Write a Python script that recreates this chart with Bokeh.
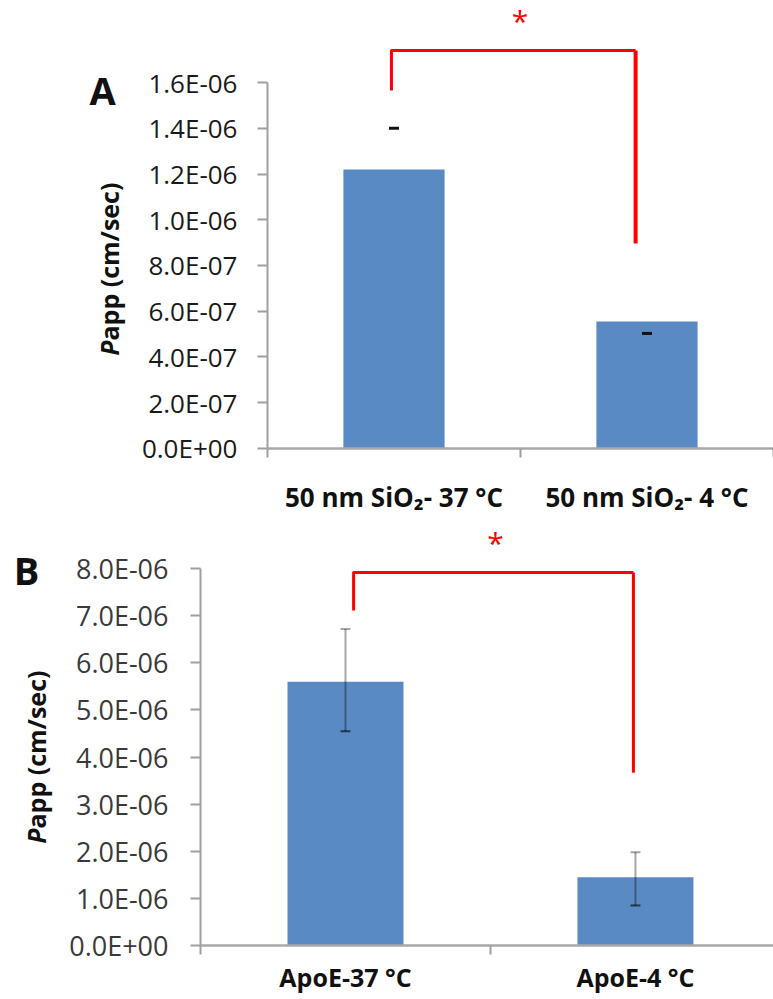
import math
from bokeh.plotting import figure
from bokeh.models import Range1d, FixedTicker, CustomJSTickFormatter, Label, ColumnDataSource
from bokeh.layouts import column
from bokeh.embed import file_html
from bokeh.resources import INLINE

# ---------------- data ----------------
a_categories = ["50 nm SiO\u2082- 37 \u00b0C", "50 nm SiO\u2082- 4 \u00b0C"]
a_values = [1.22e-6, 0.555e-6]
a_err_marks = [1.40e-6, 0.503e-6]
a_ticks = [0.0, 2e-7, 4e-7, 6e-7, 8e-7, 1.0e-6, 1.2e-6, 1.4e-6, 1.6e-6]
a_tick_labels = ["0.0E+00", "2.0E-07", "4.0E-07", "6.0E-07", "8.0E-07",
                 "1.0E-06", "1.2E-06", "1.4E-06", "1.6E-06"]

b_categories = ["ApoE-37 \u00b0C", "ApoE-4 \u00b0C"]
b_values = [5.60e-6, 1.45e-6]
b_err_low = [4.55e-6, 0.85e-6]
b_err_high = [6.72e-6, 1.98e-6]
b_ticks = [0.0, 1e-6, 2e-6, 3e-6, 4e-6, 5e-6, 6e-6, 7e-6, 8e-6]
b_tick_labels = ["0.0E+00", "1.0E-06", "2.0E-06", "3.0E-06", "4.0E-06",
                 "5.0E-06", "6.0E-06", "7.0E-06", "8.0E-06"]

BAR = "#5A8AC3"
RED = "#FF0000"
FONT = "Open Sans"

tick_fmt_code = """
let best = 0;
for (let i = 0; i < tvals.length; i++) {
  if (Math.abs(tvals[i] - tick) < Math.abs(tvals[best] - tick)) best = i;
}
return tlabels[best];
"""
cat_fmt_code = "return clabels[Math.round(tick - 0.5)];"


def make_panel(height, x_range, y_range, cats, ticks, tick_labels, tick_font_size,
               tick_color, cat_font_size, cat_standoff, y_standoff):
    p = figure(width=773, height=height, output_backend="svg", toolbar_location=None,
               x_range=Range1d(*x_range), y_range=Range1d(*y_range), min_border=0)
    p.outline_line_color = None
    p.xgrid.visible = False
    p.ygrid.visible = False
    p.background_fill_color = "white"
    p.border_fill_color = "white"

    # y axis (drawn at x = 0 of the category scale)
    yax = p.yaxis[0]
    yax.fixed_location = 0
    yax.ticker = FixedTicker(ticks=ticks, minor_ticks=[])
    yax.formatter = CustomJSTickFormatter(args=dict(tvals=ticks, tlabels=tick_labels), code=tick_fmt_code)
    yax.bounds = (ticks[0], ticks[-1])
    yax.axis_line_color = "#A0A0A0"
    yax.axis_line_width = 2
    yax.major_tick_line_color = "#A0A0A0"
    yax.major_tick_line_width = 2
    yax.major_tick_out = 10
    yax.major_tick_in = 0
    yax.major_label_text_font = FONT
    yax.major_label_text_font_size = tick_font_size
    yax.major_label_text_color = tick_color
    yax.major_label_standoff = y_standoff

    # x axis (drawn at y = 0)
    xax = p.xaxis[0]
    xax.fixed_location = 0
    cat_pos = [i + 0.5 for i in range(len(cats))]
    xax.ticker = FixedTicker(ticks=cat_pos, minor_ticks=[float(i) for i in range(len(cats) + 1)])
    xax.formatter = CustomJSTickFormatter(args=dict(clabels=cats), code=cat_fmt_code)
    xax.bounds = (0, x_range[1])
    xax.axis_line_color = "#A8A8A8"
    xax.axis_line_width = 2.5
    xax.major_tick_out = 0
    xax.major_tick_in = 0
    xax.minor_tick_out = 9
    xax.minor_tick_in = 0
    xax.minor_tick_line_color = "#A0A0A0"
    xax.minor_tick_line_width = 2
    xax.major_label_text_font = FONT
    xax.major_label_text_font_style = "bold"
    xax.major_label_text_font_size = cat_font_size
    xax.major_label_text_color = "#111111"
    xax.major_label_standoff = cat_standoff
    return p, cat_pos


def ylabel(p, x, y, size):
    p.add_layout(Label(x=x, y=y, text="P", angle=math.pi / 2, text_color="#111111",
                       text_font=FONT, text_font_style="bold italic", text_font_size=size,
                       text_align="right", text_baseline="middle"))
    p.add_layout(Label(x=x, y=y, text="app (cm/sec)", angle=math.pi / 2,
                       text_color="#111111", text_font=FONT, text_font_style="bold",
                       text_font_size=size, text_align="left", text_baseline="middle"))


# ---------------- panel A ----------------
pA, a_x = make_panel(height=520, x_range=(-1.0553, 2.0), y_range=(-0.3148e-6, 1.9585e-6),
                     cats=a_categories, ticks=a_ticks, tick_labels=a_tick_labels,
                     tick_font_size="26px", tick_color="#1A1A1A",
                     cat_font_size="26px", cat_standoff=22, y_standoff=20)
srcA = ColumnDataSource(dict(x=a_x, top=a_values, mark=a_err_marks))
pA.vbar(x="x", top="top", width=0.4, bottom=0, source=srcA, fill_color=BAR, line_color=None)
pA.rect(x="x", y="mark", width=10, height=3, width_units="screen", height_units="screen",
        source=srcA, fill_color="#111111", line_color=None)

# significance bracket A (annotation positions)
pA.line(x=[0.49, 0.49, 1.455], y=[1.565e-6, 1.740e-6, 1.740e-6], line_color=RED, line_width=3,
        line_join="round")
pA.line(x=[1.455, 1.455], y=[1.740e-6, 0.896e-6], line_color=RED, line_width=4)
pA.add_layout(Label(x=0.998, y=1.871e-6, text="*", text_color=RED, text_font=FONT,
                    text_font_size="30px", text_align="center", text_baseline="middle"))
pA.add_layout(Label(x=-0.652, y=1.569e-6, text="A", text_color="#111111", text_font=FONT,
                    text_font_style="bold", text_font_size="38px", text_align="center",
                    text_baseline="middle"))
ylabel(pA, -0.625, 0.472e-6, "25px")

# ---------------- panel B ----------------
pB, b_x = make_panel(height=479, x_range=(-0.6897, 1.976), y_range=(-1.1465e-6, 9.023e-6),
                     cats=b_categories, ticks=b_ticks, tick_labels=b_tick_labels,
                     tick_font_size="27px", tick_color="#3A3A3A",
                     cat_font_size="25px", cat_standoff=6, y_standoff=22)
srcB = ColumnDataSource(dict(x=b_x, top=b_values, lo=b_err_low, hi=b_err_high))
pB.vbar(x="x", top="top", width=0.4, bottom=0, source=srcB, fill_color=BAR, line_color=None)
pB.segment(x0="x", y0="lo", x1="x", y1="hi", source=srcB, line_color="#000000",
           line_alpha=0.35, line_width=2)
pB.rect(x="x", y="hi", width=10, height=2, width_units="screen", height_units="screen",
        source=srcB, fill_color="#000000", fill_alpha=0.35, line_color=None)
pB.rect(x="x", y="lo", width=10, height=2, width_units="screen", height_units="screen",
        source=srcB, fill_color="#000000", fill_alpha=0.6, line_color=None)

pB.line(x=[0.528, 0.528, 1.493], y=[7.11e-6, 7.92e-6, 7.92e-6], line_color=RED, line_width=3,
        line_join="round")
pB.line(x=[1.493, 1.493], y=[7.92e-6, 3.67e-6], line_color=RED, line_width=3)
pB.add_layout(Label(x=1.017, y=8.56e-6, text="*", text_color=RED, text_font=FONT,
                    text_font_size="30px", text_align="center", text_baseline="middle"))
pB.add_layout(Label(x=-0.60, y=7.98e-6, text="B", text_color="#111111", text_font=FONT,
                    text_font_style="bold", text_font_size="38px", text_align="center",
                    text_baseline="middle"))
ylabel(pB, -0.566, 2.484e-6, "25px")

layout = column(pA, pB, spacing=0)
open("out.html", "w").write(file_html(layout, INLINE))
